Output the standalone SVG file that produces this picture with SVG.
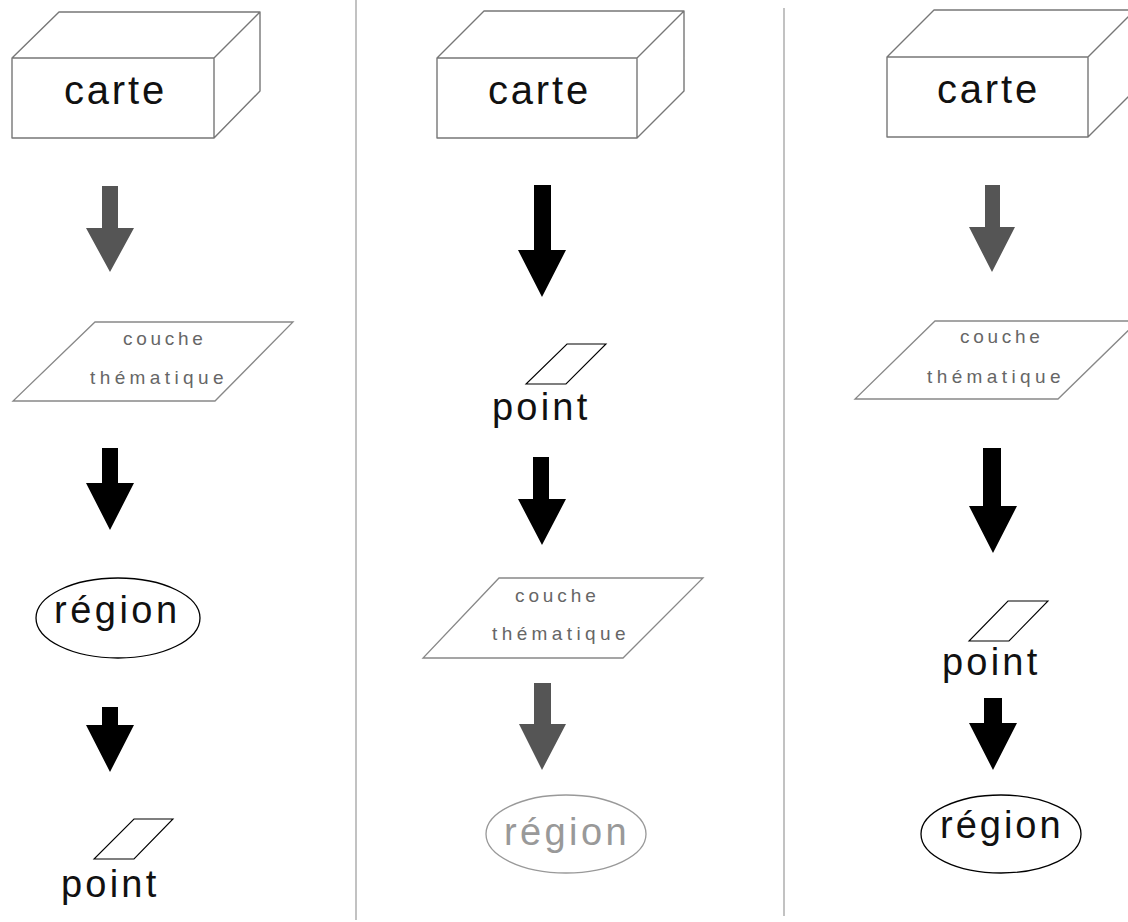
<svg xmlns="http://www.w3.org/2000/svg" width="1128" height="922" viewBox="0 0 1128 922">
<style>
.box{fill:#fff;stroke:#777;stroke-width:1.4;stroke-linejoin:round}
.para{fill:#fff;stroke:#888;stroke-width:1.3}
.pt{fill:#fff;stroke:#000;stroke-width:1.1}
.ell{fill:#fff;stroke:#000;stroke-width:1.3}
.ellg{fill:#fff;stroke:#999;stroke-width:1.3}
.big{font-family:"Liberation Sans",Arial,sans-serif;font-size:40px;fill:#111;letter-spacing:2.8px}
.lbl{font-family:"Liberation Sans",Arial,sans-serif;font-size:38px;fill:#111}
.lblg{font-family:"Liberation Sans",Arial,sans-serif;font-size:38px;fill:#999}
.sm{font-family:"Liberation Sans",Arial,sans-serif;font-size:19px;fill:#666}
.ablack{fill:#000}
.agray{fill:#555}
.div{stroke:#999;stroke-width:1.2}
</style>
<rect width="1128" height="922" fill="#fff"/>
<g id="dividers">
<line class="div" x1="356" y1="0" x2="356" y2="920"/>
<line class="div" x1="784" y1="8" x2="784" y2="916"/>
</g>
<!-- Column 1 -->
<g id="c1-carte">
<path class="box" d="M12,58 L59,12 L260,12 L260,91 L214,138 L12,138 Z M12,58 L214,58 L260,12 M214,58 L214,138"/>
<text class="big" x="64" y="104">carte</text>
</g>
<g id="c1-couche">
<polygon class="para" points="95,322 293,322 215,401 13,401"/>
<text class="sm" x="123" y="345" letter-spacing="3.7">couche</text>
<text class="sm" x="90" y="384" letter-spacing="4.4">thématique</text>
</g>
<g id="c1-region">
<ellipse class="ell" cx="118" cy="618" rx="82" ry="40"/>
<text class="lbl" x="54" y="623" letter-spacing="3.5">région</text>
</g>
<g id="c1-point">
<polygon class="pt" points="134,819 173,819 134,859 94,859"/>
<text class="lbl" x="61" y="897" letter-spacing="3.2">point</text>
</g>
<!-- Column 2 -->
<g id="c2-carte">
<path class="box" d="M437,58 L484,11 L684,11 L684,91 L637,138 L437,138 Z M437,58 L637,58 L684,11 M637,58 L637,138"/>
<text class="big" x="488" y="104">carte</text>
</g>
<g id="c2-point">
<polygon class="pt" points="567,344 606,344 566,384 526,384"/>
<text class="lbl" x="492" y="420" letter-spacing="3.2">point</text>
</g>
<g id="c2-couche">
<polygon class="para" points="499,578 703,578 623,658 423,658"/>
<text class="sm" x="515" y="602" letter-spacing="3.9">couche</text>
<text class="sm" x="492" y="640" letter-spacing="4.4">thématique</text>
</g>
<g id="c2-region">
<ellipse class="ellg" cx="566" cy="834" rx="80" ry="39"/>
<text class="lblg" x="504" y="845" letter-spacing="3.4">région</text>
</g>
<!-- Column 3 -->
<g id="c3-carte">
<path class="box" d="M887,57 L934,10 L1135,10 L1135,90 L1088,137 L887,137 Z M887,57 L1088,57 L1135,10 M1088,57 L1088,137"/>
<text class="big" x="937" y="103">carte</text>
</g>
<g id="c3-couche">
<polygon class="para" points="935,321 1138,321 1058,399 855,399"/>
<text class="sm" x="960" y="343" letter-spacing="3.7">couche</text>
<text class="sm" x="927" y="383" letter-spacing="4.4">thématique</text>
</g>
<g id="c3-point">
<polygon class="pt" points="1008,601 1048,601 1009,641 969,641"/>
<text class="lbl" x="942" y="675" letter-spacing="3.2">point</text>
</g>
<g id="c3-region">
<ellipse class="ell" cx="1001" cy="834" rx="80" ry="39"/>
<text class="lbl" x="940" y="838" letter-spacing="3">région</text>
</g>
<!-- Connectors -->
<g id="connectors">
<path class="agray" d="M102,186 L118,186 L118,228 L134,228 L110,272 L86,228 L102,228 Z"/>
<path class="ablack" d="M102,448 L118,448 L118,483 L134,483 L110,530 L86,483 L102,483 Z"/>
<path class="ablack" d="M102,707 L118,707 L118,725 L134,725 L110,772 L86,725 L102,725 Z"/>
<path class="ablack" d="M534,185 L551,185 L551,250 L566,250 L542,297 L518,250 L534,250 Z"/>
<path class="ablack" d="M533,457 L549,457 L549,499 L566,499 L542,545 L518,499 L533,499 Z"/>
<path class="agray" d="M534,683 L551,683 L551,724 L566,724 L542,770 L519,724 L534,724 Z"/>
<path class="agray" d="M985,185 L1000,185 L1000,227 L1015,227 L992,272 L969,227 L985,227 Z"/>
<path class="ablack" d="M983,448 L1001,448 L1001,506 L1017,506 L993,553 L969,506 L983,506 Z"/>
<path class="ablack" d="M984,698 L1002,698 L1002,723 L1017,723 L993,770 L969,723 L984,723 Z"/>
</g>
</svg>
